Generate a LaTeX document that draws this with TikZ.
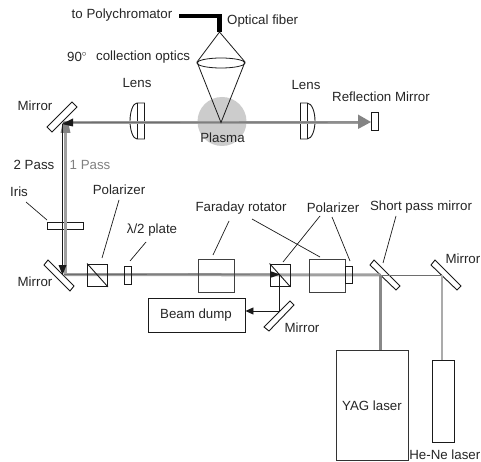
\documentclass[tikz,border=0pt]{standalone}
\usepackage{fontspec}
\setmainfont{Liberation Sans}
\usetikzlibrary{arrows.meta}
\definecolor{ln}{HTML}{1A1A1A}
\definecolor{bm}{HTML}{A0A0A0}
\definecolor{bd}{HTML}{6E6E6E}
\tikzset{
  lbl/.style={inner sep=0pt,font=\fontsize{13.3}{15}\selectfont,text=black!85},
  opt/.style={draw=ln,line width=0.9pt,fill=white},
  unit/.style={draw=black!75,line width=1pt},
  lead/.style={draw=ln,line width=0.7pt},
  beamg/.style={draw=bm,line width=3pt},
  beamd/.style={draw=bd,line width=0.9pt},
  boxn/.style={draw=ln,line width=0.9pt,inner sep=0pt,fill=none}
}
\begin{document}
\begin{tikzpicture}[x=1pt,y=-1pt]
\useasboundingbox (0,0) rectangle (481,462);
\fill[white] (0,0) rectangle (481,462);
% plasma
\fill[black!20] (222,121.5) circle (24.5);
% coordinates
\coordinate (mTL) at (63,122.5);
\coordinate (mBL) at (64,274.5);
\coordinate (refl) at (371,122.5);
\coordinate (spm) at (380.5,275);
\coordinate (mR) at (442,275);
\coordinate (pol2c) at (279,275);
\coordinate (dumpm) at (279,311);
% lenses
\draw[opt] (144.5,103) -- (137,103) .. controls (133,103) and (130,112) .. (130,121) .. controls (130,130) and (133,139) .. (137,139) -- (144.5,139) -- cycle;
\draw[opt] (137,103) -- (137,139);
\draw[opt] (300.5,103) -- (307,103) .. controls (312,103) and (315,112) .. (315,121) .. controls (315,130) and (312,139) .. (307,139) -- (300.5,139) -- cycle;
\draw[opt] (307,103) -- (307,139);
% iris, mirrors
\node[opt,minimum width=36pt,minimum height=7.5pt,inner sep=0pt] (iris) at (65,226) {};
\draw[opt] (47,127) -- (72,102) -- (77,107) -- (52,132) -- cycle;
\draw[opt] (48,260) -- (44,265) -- (70,291) -- (74,286) -- cycle;
\draw[opt] (374,260) -- (370,265) -- (396,290) -- (400,286) -- cycle;
\draw[opt] (435,260) -- (431,265) -- (457,290) -- (461,286) -- cycle;
\draw[opt] (290,301) -- (264,327) -- (269,331) -- (294,305) -- cycle;
\node[opt,minimum width=7.5pt,minimum height=17.5pt,inner sep=0pt] (rm) at (374.7,121.5) {};
% beams
\draw[beamg] (mTL) -- (358,122.5);
\fill[bd!85!white] (358,114.5) -- (371,122) -- (358,129) -- cycle;
\draw[beamd] (mTL) -- (358,122);
\draw[beamg] (65.5,273) -- (65.5,130);
\fill[bd!85!white] (60.5,133) -- (62.5,124) -- (68.5,124) -- (70.5,133) -- cycle;
\draw[line width=0.9pt,draw=ln] (62.5,124) -- (62.5,266);
\fill[ln] (58.5,265) -- (62.5,275) -- (66.5,265) -- cycle;
\fill[ln] (73,118.5) -- (62,124) -- (73,126.5) -- cycle;
\draw[beamg] (mBL) -- (spm);
\draw[beamd] (mBL) -- (270,274);
\draw[draw=bd,line width=1pt] (spm) -- (mR);
\draw[draw=bm!85!black,line width=2.4pt] (spm) -- (380.5,350);
\draw[draw=black!33,line width=2pt] (mR) -- (442,360);
% polarizers etc
\node[boxn,minimum width=20pt,minimum height=22.5pt] (pol1) at (97.5,275.2) {};
\draw[ln,line width=0.9pt] (pol1.north west) -- (pol1.south east);
\node[boxn,minimum width=7.5pt,minimum height=18pt] (hwp) at (127.7,275.5) {};
\node[unit,minimum width=36pt,minimum height=33pt,inner sep=0pt] (far1) at (216,275.5) {};
\node[boxn,minimum width=20pt,minimum height=22.5pt] (pol2) at (280,275.2) {};
\draw[ln,line width=0.9pt] (pol2.north west) -- (pol2.south east);
\node[unit,minimum width=36pt,minimum height=33pt,inner sep=0pt] (far2) at (327,275.5) {};
\node[boxn,minimum width=7.5pt,minimum height=17.5pt] (pol3) at (348.7,274.7) {};
\fill[ln] (270,271) -- (280,274.5) -- (270,278) -- cycle;
\node[boxn,minimum width=97pt,minimum height=34.5pt] (dump) at (196.5,315.2) {};
\draw[ln,line width=0.9pt] (pol2c) -- (dumpm);
\draw[ln,line width=0.9pt,-{Triangle[length=8pt,width=7pt]}] (dumpm) -- (dump.east |- dumpm);
% lasers
\node[unit,draw=black!80,minimum width=72pt,minimum height=110pt,inner sep=0pt] (yag) at (372,405) {};
\node[boxn,minimum width=22pt,minimum height=82pt] (hene) at (443,401) {};
% fiber and optics
\coordinate (fA) at (179,16);
\coordinate (fB) at (219.5,16);
\coordinate (fC) at (219.5,32);
\draw[line width=4.5pt,miter limit=10] (fA) -- (fB) -- (fC);
\draw[ln,line width=0.8pt] (fC) -- (197,62) -- (221,122.5) -- (245,62) -- cycle;
\draw[ln,line width=0.8pt] (221,63) ellipse (24 and 5);
% labels
\node[lbl] (t1) at (122,15) {to Polychromator};
\node[lbl,anchor=west] (t2) at (227,21) {Optical fiber};
\node[lbl,anchor=west] (t3) at (67,57) {90$^{\circ}$};
\node[lbl,anchor=west] (t4) at (96,57) {collection optics};
\node[lbl] (t5) at (137,83) {Lens};
\node[lbl] (t6) at (306,85) {Lens};
\node[lbl] (t7) at (381,97) {Reflection Mirror};
\node[lbl] (t8) at (222.5,138) {Plasma};
\node[lbl] (t9) at (35,106) {Mirror};
\node[lbl] (t10) at (34,165) {2 Pass};
\node[lbl,text=black!50] (t11) at (90,165) {1 Pass};
\node[lbl] (t12) at (19,192) {Iris};
\node[lbl] (t13) at (119,190) {Polarizer};
\node[lbl] (t14) at (152,230) {λ/2 plate};
\node[lbl] (t15) at (241,208) {Faraday rotator};
\node[lbl] (t16) at (333,208) {Polarizer};
\node[lbl] (t17) at (421,207) {Short pass mirror};
\node[lbl,anchor=east] (t18) at (480.5,259) {Mirror};
\node[lbl] (t19) at (35,282) {Mirror};
\node[lbl] (t20) at (196,315.5) {Beam dump};
\node[lbl] (t21) at (302,327.5) {Mirror};
\node[lbl] (t22) at (372,406) {YAG laser};
\node[lbl,anchor=east] (t23) at (480.5,455) {He-Ne laser};
% leaders
\draw[lead] (26,202) -- (47,220);
\draw[lead] (119,200) -- (102,258);
\draw[lead] (146,242) -- (130,261);
\draw[lead] (229,221) -- (213,255);
\draw[lead] (252,219) -- (320,257);
\draw[lead] (320,216) -- (283,262);
\draw[lead] (332,217) -- (350,261);
\draw[lead] (396,216) -- (383,263);
\end{tikzpicture}
\end{document}
